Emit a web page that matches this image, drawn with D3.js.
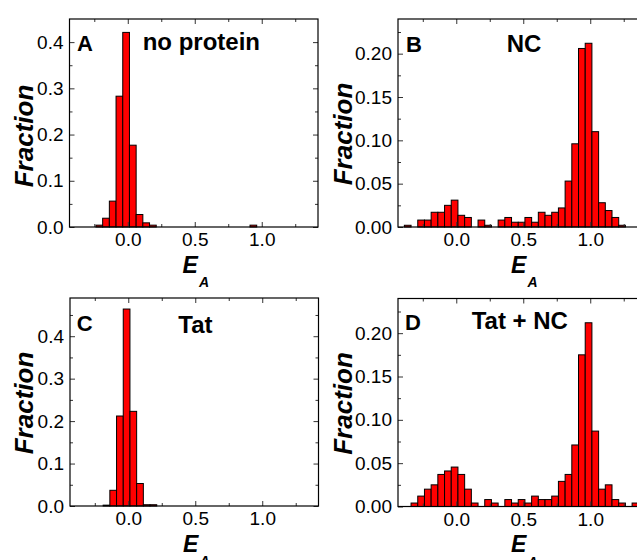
<!DOCTYPE html>
<html>
<head>
<meta charset="utf-8">
<script src="https://cdn.jsdelivr.net/npm/d3@7"></script>
<style>
  body { margin: 0; background: #fff; }
  svg { display: block; font-family: Arial, "Liberation Sans", sans-serif; }
</style>
</head>
<body>
<div id="chart"></div>
<script>
// left edges of the E_A histogram bins (width 0.05)
const binLo = [-0.3875, -0.3375, -0.2875, -0.2375, -0.1875, -0.1375, -0.0875, -0.0375,
  0.0125, 0.0625, 0.1125, 0.1625, 0.2125, 0.2625, 0.3125, 0.3625, 0.4125, 0.4625,
  0.5125, 0.5625, 0.6125, 0.6625, 0.7125, 0.7625, 0.8125, 0.8625, 0.9125, 0.9625,
  1.0125, 1.0625, 1.1125, 1.1625, 1.2125, 1.2625, 1.3125];
const binWidth = 0.05;

const noProtein = [0, 0, 0, 0.004, 0.019, 0.056, 0.283, 0.421, 0.177, 0.027, 0.009, 0.004,
  0, 0, 0, 0, 0, 0, 0, 0, 0, 0, 0, 0, 0, 0, 0.004, 0, 0, 0, 0, 0, 0, 0, 0];
const nc = [0.002, 0, 0.008, 0.008, 0.017, 0.017, 0.025, 0.031, 0.0135, 0.011, 0, 0.008,
  0.002, 0, 0.008, 0.011, 0.0055, 0.0055, 0.011, 0.0055, 0.017, 0.0135, 0.017, 0.022,
  0.053, 0.096, 0.206, 0.212, 0.110, 0.028, 0.019, 0.011, 0.002, 0, 0];
const tat = [0, 0, 0, 0, 0.002, 0.037, 0.212, 0.464, 0.223, 0.053, 0.003, 0.003,
  0, 0, 0, 0, 0, 0, 0, 0, 0, 0, 0, 0, 0, 0, 0, 0, 0, 0, 0, 0, 0, 0, 0];
const tatNc = [0, 0.004, 0.012, 0.020, 0.025, 0.037, 0.041, 0.0455, 0.037, 0.020, 0.004, 0,
  0.008, 0.004, 0, 0.008, 0.004, 0.008, 0.004, 0.012, 0.008, 0.008, 0.012, 0.029,
  0.037, 0.071, 0.175, 0.212, 0.087, 0.020, 0.025, 0.008, 0.004, 0, 0.004];

const xDomain = [-0.435, 1.42];
const xMajor = [0, 0.5, 1.0];
const xMinor = [-0.25, 0.25, 0.75, 1.25];
const yMajorA = [0, 0.1, 0.2, 0.3, 0.4];
const yMinorA = [0.05, 0.15, 0.25, 0.35, 0.45];
const yMajorB = [0, 0.05, 0.10, 0.15, 0.20];
const yMinorB = [0.025, 0.075, 0.125, 0.175, 0.225];

const W = 248.5, H = 208;

const panels = [
  { values: noProtein, yMax: 0.45, major: yMajorA, minor: yMinorA, fmt: ".1f",
    letter: "A", title: "no protein", left: 69.5, top: 19,
    letterPos: [7.5, 31.5], titlePos: [73.2, 31], fracPos: [-36.2, 117] },
  { values: nc, yMax: 0.24, major: yMajorB, minor: yMinorB, fmt: ".2f",
    letter: "B", title: "NC", left: 398, top: 19,
    letterPos: [8, 33.3], titlePos: [108.7, 33.3], fracPos: [-46.3, 115] },
  { values: tat, yMax: 0.49, major: yMajorA, minor: yMinorA, fmt: ".1f",
    letter: "C", title: "Tat", left: 70, top: 298,
    letterPos: [6.7, 33], titlePos: [108.3, 35.3], fracPos: [-36.7, 105] },
  { values: tatNc, yMax: 0.24, major: yMajorB, minor: yMinorB, fmt: ".2f",
    letter: "D", title: "Tat + NC", left: 398, top: 298.5,
    letterPos: [7, 31.5], titlePos: [73.7, 30.8], fracPos: [-46.3, 105] }
];

const svg = d3.select("#chart").append("svg")
  .attr("width", 637)
  .attr("height", 560);

function drawPanel(p) {
  const g = svg.append("g").attr("transform", `translate(${p.left},${p.top})`);
  const x = d3.scaleLinear().domain(xDomain).range([0, W]);
  const y = d3.scaleLinear().domain([0, p.yMax]).range([H, 0]);

  const bars = binLo.map((lo, i) => ({ lo: lo, v: p.values[i] })).filter(d => d.v > 0);

  g.selectAll("rect.bar")
    .data(bars)
    .enter()
    .append("rect")
    .attr("class", "bar")
    .attr("x", d => x(d.lo))
    .attr("width", d => x(d.lo + binWidth) - x(d.lo))
    .attr("y", d => y(d.v))
    .attr("height", d => H - y(d.v))
    .attr("fill", "#ff0000")
    .attr("stroke", "#000")
    .attr("stroke-width", 1);

  // tick marks point inwards on all four sides
  const minor = p.minor.filter(v => v < p.yMax);
  const axes = [
    { a: d3.axisBottom(x).tickValues(xMajor).tickFormat(d3.format(".1f")), t: `translate(0,${H})`, s: -5 },
    { a: d3.axisBottom(x).tickValues(xMinor).tickFormat(""), t: `translate(0,${H})`, s: -3 },
    { a: d3.axisTop(x).tickValues(xMajor).tickFormat(""), t: null, s: -5 },
    { a: d3.axisTop(x).tickValues(xMinor).tickFormat(""), t: null, s: -3 },
    { a: d3.axisLeft(y).tickValues(p.major).tickFormat(d3.format(p.fmt)), t: null, s: -5 },
    { a: d3.axisLeft(y).tickValues(minor).tickFormat(""), t: null, s: -3 },
    { a: d3.axisRight(y).tickValues(p.major).tickFormat(""), t: `translate(${W},0)`, s: -5 },
    { a: d3.axisRight(y).tickValues(minor).tickFormat(""), t: `translate(${W},0)`, s: -3 }
  ];
  axes.forEach(ax => {
    const ag = g.append("g")
      .attr("transform", ax.t)
      .call(ax.a.tickSizeInner(ax.s).tickSizeOuter(0).tickPadding(6));
    ag.select(".domain").remove();
    ag.selectAll(".tick line").attr("stroke", "#333");
    ag.selectAll(".tick text")
      .attr("font-size", "19px")
      .attr("font-family", "Arial, 'Liberation Sans', sans-serif")
      .attr("fill", "#000");
  });

  g.append("rect")
    .attr("x", 0).attr("y", 0)
    .attr("width", W).attr("height", H)
    .attr("fill", "none")
    .attr("stroke", "#000")
    .attr("stroke-width", 1.2);

  g.append("text")
    .attr("x", p.letterPos[0]).attr("y", p.letterPos[1])
    .attr("font-size", "22px").attr("font-weight", "bold")
    .text(p.letter);

  g.append("text")
    .attr("x", p.titlePos[0]).attr("y", p.titlePos[1])
    .attr("font-size", "24px").attr("font-weight", "bold")
    .text(p.title);

  g.append("text")
    .attr("transform", `translate(${p.fracPos[0]},${p.fracPos[1]}) rotate(-90)`)
    .attr("text-anchor", "middle")
    .attr("font-size", "26px").attr("font-weight", "bold").attr("font-style", "italic")
    .text("Fraction");

  const ex = x(0.5) - 12.3;
  g.append("text")
    .attr("x", ex).attr("y", H + 45.5)
    .attr("font-size", "23px").attr("font-weight", "bold").attr("font-style", "italic")
    .text("E");
  g.append("text")
    .attr("x", ex + 16.5).attr("y", H + 60)
    .attr("font-size", "14px").attr("font-weight", "bold").attr("font-style", "italic")
    .text("A");
}

panels.forEach(drawPanel);
</script>
</body>
</html>
